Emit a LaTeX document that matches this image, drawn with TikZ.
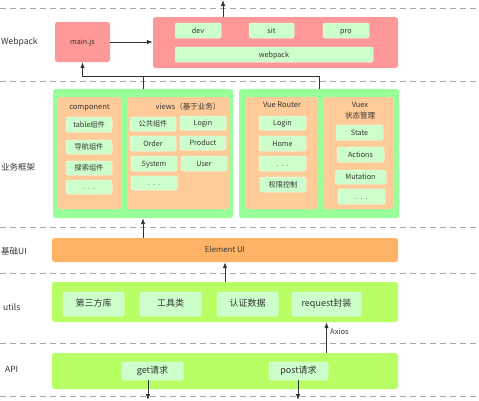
\documentclass[tikz,border=0pt]{standalone}
\usepackage{fontspec}
\setmainfont{Noto Sans CJK SC}
\usetikzlibrary{arrows.meta}

\definecolor{redbox}{HTML}{FF9999}
\definecolor{bizgreen}{HTML}{99FF99}
\definecolor{peach}{HTML}{FFCC99}
\definecolor{itemgreen}{HTML}{CCFFCC}
\definecolor{uiorange}{HTML}{FFB366}
\definecolor{lime}{HTML}{B8FF66}
\definecolor{ink}{HTML}{333333}
\definecolor{dashgray}{HTML}{AAAAAA}

\tikzset{
    sz/.style 2 args={minimum width=#1, minimum height=#2},
    block/.style={inner sep=0pt, rounded corners=2.5pt, text=ink,
        text height=0.72em, text depth=0.22em,
        font=\fontsize{7.2}{8}\selectfont},
    item/.style={block, fill=itemgreen, draw=itemgreen!40!white, line width=0.5pt,
        rounded corners=2pt},
    bigitem/.style={item, font=\fontsize{9}{10}\selectfont},
    layer/.style={text=ink, anchor=west, inner sep=0pt, font=\fontsize{8.5}{10}\selectfont},
    title/.style={text=ink, inner sep=0pt, text height=0.72em, text depth=0.22em,
        font=\fontsize{7.5}{9}\selectfont},
    arr/.style={draw=ink, line width=0.8pt, -{Latex[length=6pt,width=4.5pt]}},
}

\begin{document}
\begin{tikzpicture}[x=1pt, y=-1pt]
            \useasboundingbox (0,0) rectangle (479,400);
            \foreach \y in {8,81,227,273,343,396}
                \draw [dashgray, line width=0.6pt, dash pattern=on 6pt off 4pt] (0,\y) -- (479,\y);

            \node [layer] (lwebpack) at (1,42) {Webpack};
            \node [layer] (lbiz) at (1,167) {业务框架};
            \node [layer] (lui) at (1,251) {基础UI};
            \node [layer] (lutils) at (3,307) {utils};
            \node [layer] (lapi) at (5,369) {API};

            \node [block, fill=redbox, sz={55}{40}] (main) at (82.5,42) {main.js};
            \node [block, fill=redbox, sz={245}{51}] (wp) at (275.5,42.5) {};
            \node [item, sz={46}{15}] (dev) at (198,30.5) {dev};
            \node [item, sz={45}{15}] (sit) at (271.5,30.5) {sit};
            \node [item, sz={46}{15}] (pro) at (346,30.5) {pro};
            \node [item, sz={198}{15}] (wpk) at (274,54.5) {webpack};

            \node [block, fill=bizgreen, sz={180}{129}] (biz1) at (143,153.5) {};
            \node [block, fill=bizgreen, sz={160}{129}] (biz2) at (319,153.5) {};
            \node [block, fill=peach, sz={63}{112}] (comp) at (89.5,153) {};
            \node [block, fill=peach, sz={102}{112}] (views) at (178,153) {};
            \node [block, fill=peach, sz={73}{112}] (router) at (281.5,153) {};
            \node [block, fill=peach, sz={70}{112}] (vuex) at (359,153) {};
            \node [title] (tcomp) at (89.5,107) {component};
            \node [title] (tviews) at (188,107) {views（基于业务）};
            \node [title] (trouter) at (282,105) {Vue Router};
            \node [title] (tvuex) at (360,105) {Vuex};
            \node [title] (tstate) at (360,116) {状态管理};

            \node [item, sz={46}{15}] (tbl) at (89,124.5) {table组件};
            \node [item, sz={46}{14}] (nav) at (89,147) {导航组件};
            \node [item, sz={46}{14}] (srch) at (89,168) {搜索组件};
            \node [item, sz={46}{14}] (cmore) at (89,187) {.\ \ .\ \ .};

            \node [item, sz={46}{14}] (pub) at (153,124) {公共组件};
            \node [item, sz={46}{14}] (vlogin) at (203,123) {Login};
            \node [item, sz={46}{15}] (order) at (153,143.5) {Order};
            \node [item, sz={46}{14}] (prod) at (203,143) {Product};
            \node [item, sz={46}{15}] (sys) at (154,163.5) {System};
            \node [item, sz={46}{15}] (user) at (204,163.5) {User};
            \node [item, sz={46}{14}] (vmore) at (154,183) {.\ \ .\ \ .};

            \node [item, sz={47}{14}] (rlogin) at (282.5,123) {Login};
            \node [item, sz={47}{15}] (home) at (282.5,143.5) {Home};
            \node [item, sz={47}{15}] (rmore) at (282.5,163.5) {.\ \ .\ \ .};
            \node [item, sz={46}{15}] (perm) at (283,184.5) {权限控制};

            \node [item, sz={47}{15}] (state) at (359.5,132.5) {State};
            \node [item, sz={47}{15}] (actions) at (360.5,154.5) {Actions};
            \node [item, sz={51}{14}] (mutation) at (360.5,177) {Mutation};
            \node [item, sz={47}{15}] (xmore) at (361.5,196.5) {.\ \ .\ \ .};

            \node [block, fill=uiorange, font=\fontsize{7.8}{9}\selectfont, sz={346}{24}] (eui) at (225,250) {Element UI};

            \node [block, fill=lime, sz={346}{40}] (utl) at (225,302) {};
            \node [bigitem, sz={61}{24}] (third) at (93.5,304) {第三方库};
            \node [bigitem, sz={61}{24}] (tool) at (170.5,304) {工具类};
            \node [bigitem, sz={61}{24}] (authdata) at (247.5,304) {认证数据};
            \node [bigitem, sz={69}{24}] (req) at (326.5,304) {request封装};

            \node [block, fill=lime, sz={346}{36}] (api) at (225,371) {};
            \node [bigitem, sz={61}{18}] (get) at (152.5,371) {get请求};
            \node [bigitem, sz={59}{18}] (post) at (298.5,371) {post请求};

            \coordinate (wpout) at (223,0);
            \coordinate (bus) at (82.5,76);
            \coordinate (getout) at (148,400);
            \coordinate (postout) at (298,400);

            \draw [arr] (main.east) -- (main.east -| wp.west);
            \draw [arr] (wpout |- wp.north) -- (wpout);
            \draw [arr] (biz2.north) |- (bus) -- (main.south);
            \draw [draw=ink, line width=0.8pt] (biz1.north) -- (biz1.north |- bus);
            \draw [arr] (biz1.south |- eui.north) -- (biz1.south);
            \draw [arr] (utl.north) -- (eui.south);
            \draw [arr] (req.south |- api.north) -- (req.south |- utl.south)
                node[pos=0.7, right, text=ink, font=\fontsize{7.5}{9}\selectfont] {Axios};
            \draw [arr] (getout |- get.south) -- (getout);
            \draw [arr] (postout |- post.south) -- (postout);
        \end{tikzpicture}
\end{document}
